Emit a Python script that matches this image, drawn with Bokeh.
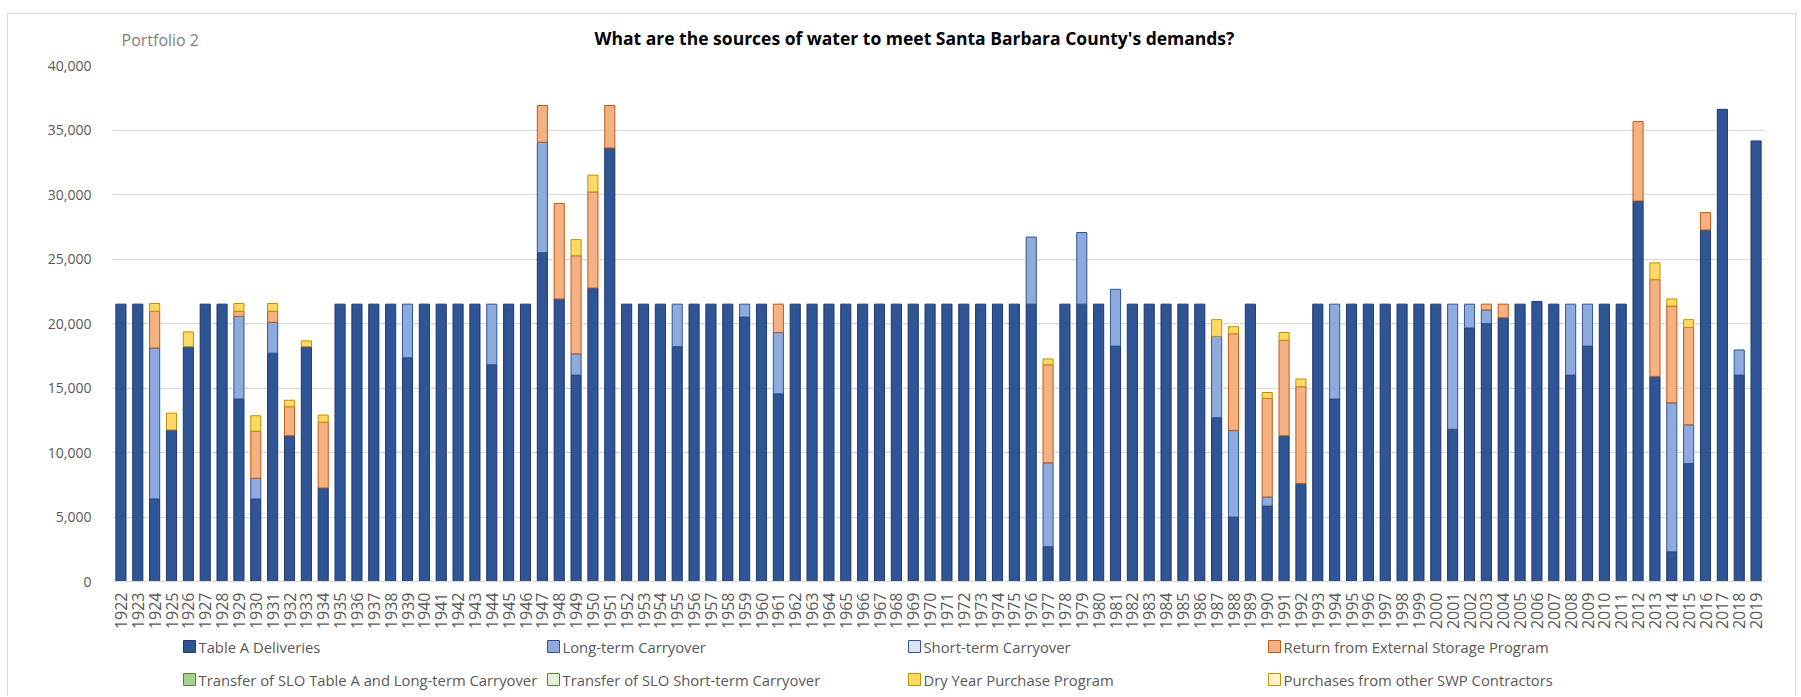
import math
from bokeh.plotting import figure
from bokeh.layouts import column
from bokeh.models import (ColumnDataSource, Label, NumeralTickFormatter,
                          Range1d, FactorRange)
from bokeh.core.properties import value
from bokeh.embed import file_html
from bokeh.resources import INLINE

# ---------------- data ----------------
years = [str(y) for y in range(1922, 2020)]

table_a = [
    21500, 21500, 6400, 11750, 18200, 21500, 21500, 14150, 6400, 17700,   # 1922-1931
    11300, 18200, 7250, 21500, 21500, 21500, 21500, 17350, 21500, 21500,  # 1932-1941
    21500, 21500, 16800, 21500, 21500, 25500, 21900, 16000, 22750, 33600, # 1942-1951
    21500, 21500, 21500, 18200, 21500, 21500, 21500, 20500, 21500, 14550, # 1952-1961
    21500, 21500, 21500, 21500, 21500, 21500, 21500, 21500, 21500, 21500, # 1962-1971
    21500, 21500, 21500, 21500, 21500, 2700, 21500, 21500, 21500, 18250,  # 1972-1981
    21500, 21500, 21500, 21500, 21500, 12700, 5000, 21500, 5850, 11300,   # 1982-1991
    7600, 21500, 14150, 21500, 21500, 21500, 21500, 21500, 21500, 11800,  # 1992-2001
    19650, 20000, 20450, 21500, 21700, 21500, 16000, 18250, 21500, 21500, # 2002-2011
    29500, 15900, 2300, 9150, 27250, 36600, 16000, 34150,                 # 2012-2019
]
long_term = [
    0, 0, 11700, 0, 0, 0, 0, 6400, 1600, 2400,
    0, 0, 0, 0, 0, 0, 0, 4150, 0, 0,
    0, 0, 4700, 0, 0, 8550, 0, 1650, 0, 0,
    0, 0, 0, 3300, 0, 0, 0, 1000, 0, 4750,
    0, 0, 0, 0, 0, 0, 0, 0, 0, 0,
    0, 0, 0, 0, 5200, 6500, 0, 5550, 0, 4400,
    0, 0, 0, 0, 0, 6300, 6700, 0, 700, 0,
    0, 0, 7350, 0, 0, 0, 0, 0, 0, 9700,
    1850, 1050, 0, 0, 0, 0, 5500, 3250, 0, 0,
    0, 0, 11550, 3000, 0, 0, 1950, 0,
]
short_term = [0] * len(years)
return_storage = [
    0, 0, 2850, 0, 0, 0, 0, 400, 3650, 850,
    2250, 0, 5100, 0, 0, 0, 0, 0, 0, 0,
    0, 0, 0, 0, 0, 2850, 7400, 7600, 7450, 3300,
    0, 0, 0, 0, 0, 0, 0, 0, 0, 2200,
    0, 0, 0, 0, 0, 0, 0, 0, 0, 0,
    0, 0, 0, 0, 0, 7600, 0, 0, 0, 0,
    0, 0, 0, 0, 0, 0, 7500, 0, 7650, 7400,
    7500, 0, 0, 0, 0, 0, 0, 0, 0, 0,
    0, 450, 1050, 0, 0, 0, 0, 0, 0, 0,
    6150, 7500, 7500, 7550, 1350, 0, 0, 0,
]
slo_table_a = [0] * len(years)
slo_short_term = [0] * len(years)
dry_year = [
    0, 0, 600, 1300, 1150, 0, 0, 600, 1200, 600,
    500, 450, 550, 0, 0, 0, 0, 0, 0, 0,
    0, 0, 0, 0, 0, 0, 0, 1250, 1300, 0,
    0, 0, 0, 0, 0, 0, 0, 0, 0, 0,
    0, 0, 0, 0, 0, 0, 0, 0, 0, 0,
    0, 0, 0, 0, 0, 450, 0, 0, 0, 0,
    0, 0, 0, 0, 0, 1300, 550, 0, 450, 600,
    600, 0, 0, 0, 0, 0, 0, 0, 0, 0,
    0, 0, 0, 0, 0, 0, 0, 0, 0, 0,
    0, 1300, 550, 600, 0, 0, 0, 0,
]
swp_purchases = [0] * len(years)

series_names = [
    "Table A Deliveries", "Long-term Carryover", "Short-term Carryover",
    "Return from External Storage Program",
    "Transfer of SLO Table A and Long-term Carryover",
    "Transfer of SLO Short-term Carryover",
    "Dry Year Purchase Program", "Purchases from other SWP Contractors",
]
series_values = [table_a, long_term, short_term, return_storage,
                 slo_table_a, slo_short_term, dry_year, swp_purchases]
fills = ["#2F5597", "#8FAADC", "#DAE3F3", "#F4B183",
         "#A9D18E", "#E2F0D9", "#FFD966", "#FFF2CC"]
lines = ["#203864", "#2F5597", "#2F5597", "#C55A11",
         "#548235", "#548235", "#BF9000", "#BF9000"]

title_text = "What are the sources of water to meet Santa Barbara County's demands?"
subtitle_text = "Portfolio 2"

FONT = "Open Sans"
GRAY = "#595959"
W = 1800
LEFT, RIGHT = 112, 36           # frame edges shared by all three panels


def blank(height):
    f = figure(x_range=Range1d(LEFT, W - RIGHT), y_range=Range1d(0, height),
               width=W, height=height, output_backend="svg",
               toolbar_location=None, min_border=0,
               min_border_left=LEFT, min_border_right=RIGHT)
    f.axis.visible = False
    f.grid.grid_line_color = None
    f.outline_line_color = None
    f.background_fill_color = None
    f.border_fill_color = None
    return f


# ---------------- header ----------------
header = blank(55)
header.add_layout(Label(x=914, y=18, text=title_text,
                        text_align="center", text_baseline="middle",
                        text_font=FONT, text_font_style="bold",
                        text_font_size="17.5px", text_color="#000000"))
header.add_layout(Label(x=121, y=16, text=subtitle_text,
                        text_align="left", text_baseline="middle",
                        text_font=FONT, text_font_size="16px",
                        text_color="#7F7F7F"))

# ---------------- main chart ----------------
p = figure(x_range=FactorRange(*years, range_padding=0),
           y_range=Range1d(0, 40000),
           width=W, height=577,
           output_backend="svg", toolbar_location=None,
           min_border_left=LEFT, min_border_right=RIGHT,
           min_border_top=10, min_border_bottom=50)
p.outline_line_color = None
p.background_fill_color = None
p.border_fill_color = None

p.xgrid.grid_line_color = None
p.ygrid.grid_line_color = "#D9D9D9"
p.ygrid.grid_line_width = 1

p.yaxis.ticker = [0, 5000, 10000, 15000, 20000, 25000, 30000, 35000, 40000]
p.yaxis.formatter = NumeralTickFormatter(format="0,0")
p.yaxis.axis_line_color = None
p.yaxis.major_tick_line_color = None
p.yaxis.minor_tick_line_color = None
p.yaxis.major_label_text_font = FONT
p.yaxis.major_label_text_font_size = "14px"
p.yaxis.major_label_text_color = GRAY
p.yaxis.major_label_standoff = 15

p.xaxis.axis_line_color = "#D9D9D9"
p.xaxis.major_tick_line_color = None
p.xaxis.minor_tick_line_color = None
p.xaxis.major_label_orientation = math.pi / 2
p.xaxis.major_label_text_font = FONT
p.xaxis.major_label_text_font_size = "16px"
p.xaxis.major_label_text_color = GRAY
p.xaxis.major_label_standoff = 5

cum = [0] * len(years)
for name, vals, fc, lc in zip(series_names, series_values, fills, lines):
    xs, bots, tops = [], [], []
    for i, v in enumerate(vals):
        if v > 0:
            xs.append(years[i])
            bots.append(cum[i])
            tops.append(cum[i] + v)
        cum[i] += v
    src = ColumnDataSource(dict(x=xs, bottom=bots, top=tops))
    p.vbar(x="x", bottom="bottom", top="top", width=0.6, source=src,
           fill_color=fc, line_color=lc, line_width=1)

# ---------------- legend (4 columns x 2 rows) ----------------
LG_H = 64
lg = blank(LG_H)
col_left = [183, 547, 908, 1268]      # swatch left edges (px)
row_mid = [LG_H - 14, LG_H - 47]      # row centres (px from bottom)
SW = 12
sw_x, sw_y, tx_x, tx_y = [], [], [], []
for k in range(len(series_names)):
    c, r = k % 4, k // 4
    sw_x.append(col_left[c] + SW / 2)
    sw_y.append(row_mid[r])
    tx_x.append(col_left[c] + SW + 3)
    tx_y.append(row_mid[r])
lg_src = ColumnDataSource(dict(sx=sw_x, sy=sw_y, tx=tx_x, ty=tx_y,
                               label=series_names, fill=fills, line=lines))
lg.rect(x="sx", y="sy", width=SW, height=SW, source=lg_src,
        fill_color="fill", line_color="line", line_width=1)
lg.text(x="tx", y="ty", text="label", source=lg_src,
        text_font=value(FONT), text_font_size="14.8px", text_color=GRAY,
        text_baseline="middle", text_align="left")

layout = column(header, p, lg, spacing=0)
layout.styles = {
    "background-image": ("linear-gradient(#D9D9D9,#D9D9D9),"
                         "linear-gradient(#D9D9D9,#D9D9D9),"
                         "linear-gradient(#D9D9D9,#D9D9D9)"),
    "background-size": "1px 690px, 1789px 1px, 1px 690px",
    "background-position": "7px 13px, 7px 13px, 1795px 13px",
    "background-repeat": "no-repeat",
}

open("out.html", "w").write(file_html(layout, INLINE))
